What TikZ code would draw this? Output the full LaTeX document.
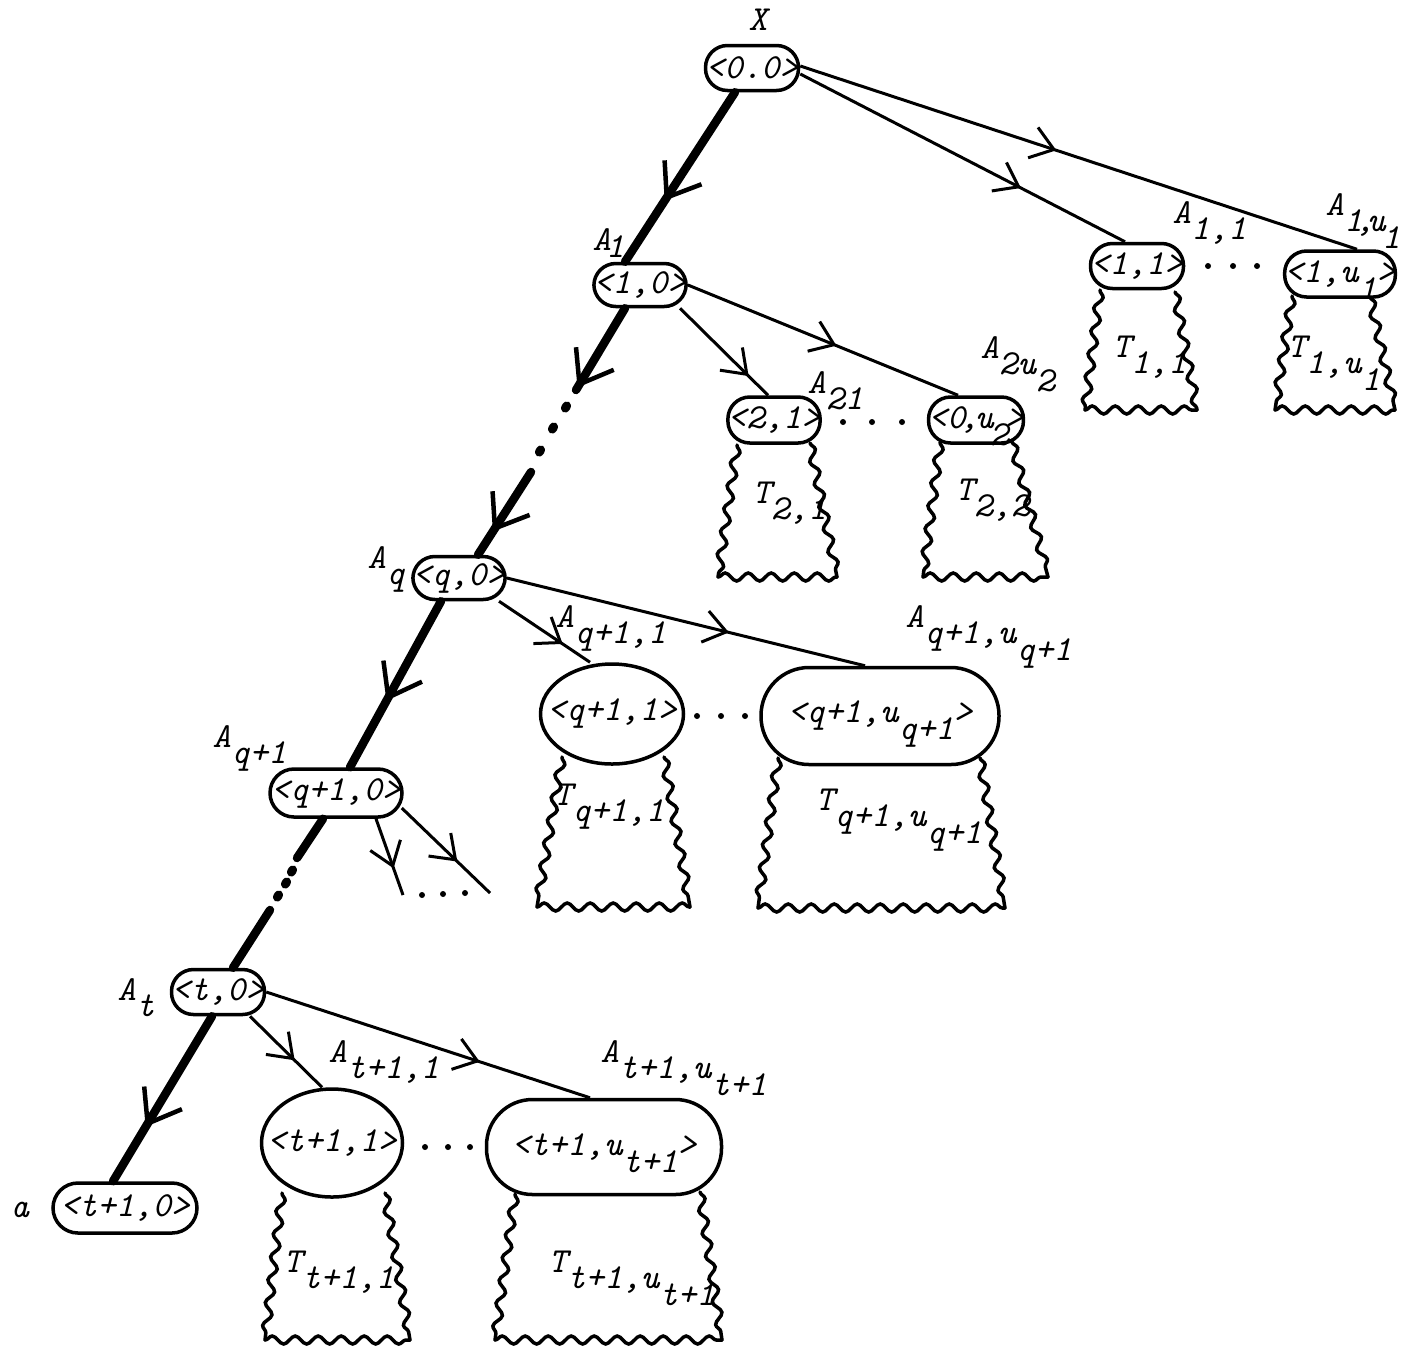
\documentclass[tikz,border=0pt]{standalone}
\usetikzlibrary{arrows.meta,decorations.markings,decorations.pathmorphing,shapes.geometric,calc}
\newcommand\dn[1]{\raisebox{-1.1ex}[0pt][0pt]{#1}}
\newcommand\dnsm[1]{\raisebox{-0.5ex}[0pt][0pt]{#1}}
\newcommand\wavytree[4]{%
  \draw[treeside] #1 -- #2;
  \draw[treeside] #2 -- #3;
  \draw[treeside] #4 -- #3;}
\begin{document}
\begin{tikzpicture}[x=0.1mm,y=-0.1mm,
  every node/.style={font=\fontsize{10}{12}\selectfont\ttfamily\itshape},
  pill/.style={draw,line width=0.35mm,rounded corners=2.2mm,minimum width=9.3mm,minimum height=4.5mm,inner sep=0pt},
  bigpill/.style={draw,line width=0.35mm,rounded corners=4.6mm,minimum width=23.6mm,minimum height=9.5mm,inner sep=0pt},
  ell/.style={draw,ellipse,line width=0.35mm,inner sep=0pt,minimum width=14.2mm,minimum height=10.2mm},
  lbl/.style={anchor=base west,inner sep=0pt},
  thinedge/.style={line width=0.3mm},
  marr/.style={postaction={decorate,decoration={markings,mark=at position #1 with {\arrow{Straight Barb[length=2.2mm,width=3.2mm,line width=0.3mm]}}}}},
  mainpath/.style={line width=0.85mm,line cap=round},
  tarr/.style={postaction={decorate,decoration={markings,mark=at position #1 with {\arrow{Straight Barb[length=3mm,width=4.4mm,line width=0.45mm]}}}}},
  treeside/.style={line width=0.35mm,line cap=round,decorate,decoration={snake,segment length=2.3mm,amplitude=0.4mm}},
  sdot/.style={fill,circle,inner sep=0pt,minimum size=0.6mm},
  bdot/.style={fill,ellipse,inner sep=0pt,minimum width=0.9mm,minimum height=1.2mm}
]
\useasboundingbox (0,0) rectangle (1408,1355);
\fill[white] (0,0) rectangle (1408,1355);

% ---- nodes ----
\node[pill] (n00) at (752,68) {<0.0>};
\node[pill,minimum width=9.1mm,minimum height=4.3mm] (n10) at (640,285) {<1,0>};
\node[pill] (n11) at (1137,266) {<1,1>};
\node[pill,minimum width=11mm,minimum height=4.6mm] (n1u) at (1340,274) {<1,u\dn{1}>};
\node[pill,minimum width=9.2mm,minimum height=4.6mm] (n21) at (774,420) {<2,1>};
\node[pill,minimum width=9.2mm,minimum height=4.6mm] (n2u) at (976,420) {<0\kern-.15em,\kern-.1em u\kern-.1em\dn{2}\kern-.1em>};
\node[pill,minimum width=9.2mm,minimum height=4.3mm] (nq0) at (459,578) {<q,0>};
\node[pill,minimum width=13.2mm,minimum height=4.8mm,rounded corners=2.4mm] (nq10) at (336,793) {<q+1,0>};
\node[ell,minimum width=14.3mm,minimum height=10mm] (nq11) at (612,714) {\makebox[0pt]{<q+1,1>}};
\node[bigpill,minimum width=23.8mm,minimum height=9.7mm,rounded corners=4.8mm] (nq1u) at (880,716) {<q+1,u\dn{q+1}>};
\node[pill] (nt0) at (218,992) {<t,0>};
\node[pill,minimum width=14.4mm,minimum height=5mm,rounded corners=2.5mm] (nt10) at (125,1208) {<t+1,0>};
\node[ell,minimum width=14.1mm,minimum height=10.8mm] (nt11) at (332,1143) {\makebox[0pt]{<t+1,1>}};
\node[bigpill,minimum width=23.5mm,minimum height=9.5mm] (nt1u) at (604,1147) {<t+1,u\dn{t+1}>};

% ---- labels ----
\node[lbl] (lX) at (748,30) {X};
\node[lbl] (lA1) at (592,250) {A\kern-.15em\dnsm{1}};
\node[lbl] (lA11) at (1172,223) {A\dn{1,1}};
\node[lbl] (lA1u) at (1325,215) {A\dn{1\kern-.2em,\kern-.2em u\kern-.1em\dn{1}}};
\node[lbl] (lT11) at (1112,357) {T\dn{1,1}};
\node[lbl] (lT1u) at (1287,357) {T\dn{1,u\dn{1}}};
\node[lbl] (lA21) at (807,393) {A\dn{21}};
\node[lbl] (lA2u) at (980,358) {A\dn{2u\dn{2}}};
\node[lbl] (lT21) at (752,503) {T\dn{2,1}};
\node[lbl] (lT22) at (955,500) {T\dn{2,2}};
\node[lbl] (lAq) at (367,568) {A\dn{q}};
\node[lbl] (lAq1) at (212,747) {A\dn{q+1}};
\node[lbl] (lAq11) at (555,627) {A\dn{q+1,1}};
\node[lbl] (lAq1u) at (905,627) {A\dn{q+1,u\dn{q+1}}};
\node[lbl] (lTq11) at (553,805) {T\dn{q+1,1}};
\node[lbl] (lTq1u) at (815,810) {T\dn{q+1,u\dn{q+1}}};
\node[lbl] (lAt) at (117,1000) {A\dn{t}};
\node[lbl] (la) at (10,1217) {a};
\node[lbl] (lAt11) at (328,1062) {A\dn{t+1,1}};
\node[lbl] (lAt1u) at (600,1062) {A\dn{t+1,u\dn{t+1}}};
\node[lbl] (lTt11) at (283,1272) {T\dn{t+1,1}};
\node[lbl] (lTt1u) at (548,1272) {T\dn{t+1,u\dn{t+1}}};

% ---- subtrees ----
\wavytree{(1100,290)}{(1085,410)}{(1197,410)}{(1175,292)}
\wavytree{(1292,296)}{(1275,410)}{(1395,410)}{(1370,297)}
\wavytree{(737,445)}{(718,577)}{(837,577)}{(810,443)}
\wavytree{(940,442)}{(923,577)}{(1048,577)}{(1012,442)}
\wavytree{(562,757)}{(537,907)}{(690,907)}{(664,757)}
\wavytree{(778,758)}{(758,908)}{(1005,908)}{(980,758)}
\wavytree{(282,1193)}{(265,1340)}{(410,1340)}{(385,1193)}
\wavytree{(515,1194)}{(495,1340)}{(722,1340)}{(700,1192)}

% ---- dots ----
\foreach \x in {1208,1233,1257} \node[sdot] at (\x,266) {};
\foreach \x in {843,872,902} \node[sdot] at (\x,422) {};
\foreach \x in {697,721,745} \node[sdot] at (\x,716) {};
\foreach \x/\y in {422/895,443/894,465/893} \node[sdot] at (\x,\y) {};
\foreach \x in {425,448,470} \node[sdot] at (\x,1147) {};
\foreach \x/\y in {566/407,553/428,540/451,292/871,286/883,278/896} \node[bdot,rotate=-30] at (\x,\y) {};

% ---- free ends / breaks ----
\coordinate (k1) at (576,390);
\coordinate (k2) at (531,472);
\coordinate (k3) at (297,858);
\coordinate (k4) at (270,910);
\coordinate (f1) at (403,895);
\coordinate (f2) at (490,893);

% ---- thin edges ----
\draw[thinedge,marr=0.46] ($(n00.east)+(0,-2)$) -- ($(n1u.north)+(17,0)$);
\draw[thinedge,marr=0.68] ($(n00.east)+(0,6)$) -- ($(n11.north)+(-12,0)$);
\draw[thinedge,marr=0.78] ($(n10.south)+(40,0)$) -- ($(n21.north)+(-6,0)$);
\draw[thinedge,marr=0.55] (n10.east) -- ($(n2u.north)+(-18,0)$);
\draw[thinedge,marr=0.7] ($(nq0.south)+(40,0)$) -- ($(nq11.north)+(-22,0)$);
\draw[thinedge,marr=0.62] (nq0.east) -- ($(nq1u.north)+(-15,0)$);
\draw[thinedge,marr=0.65] ($(nq10.south)+(40,0)$) -- (f1);
\draw[thinedge,marr=0.63] ($(nq10.east)+(-2,15)$) -- (f2);
\draw[thinedge,marr=0.62] ($(nt0.south)+(32,0)$) -- ($(nt11.north)+(-10,0)$);
\draw[thinedge,marr=0.66] (nt0.east) -- ($(nt1u.north)+(-14,0)$);

% ---- main thick path ----
\draw[mainpath,tarr=0.64] ($(n00.south)+(-17,0)$) -- ($(n10.north)+(-15,0)$);
\draw[mainpath,tarr=0.97] ($(n10.south)+(-15,0)$) -- (k1);
\draw[mainpath,tarr=0.72] (k2) -- ($(nq0.north)+(19,0)$);
\draw[mainpath,tarr=0.6] ($(nq0.south)+(-18,0)$) -- ($(nq10.north)+(14,0)$);
\draw[mainpath] ($(nq10.south)+(-13,0)$) -- (k3);
\draw[mainpath] (k4) -- ($(nt0.north)+(15,0)$);
\draw[mainpath,tarr=0.67] ($(nt0.south)+(-6,0)$) -- ($(nt10.north)+(-12,0)$);
\end{tikzpicture}
\end{document}
